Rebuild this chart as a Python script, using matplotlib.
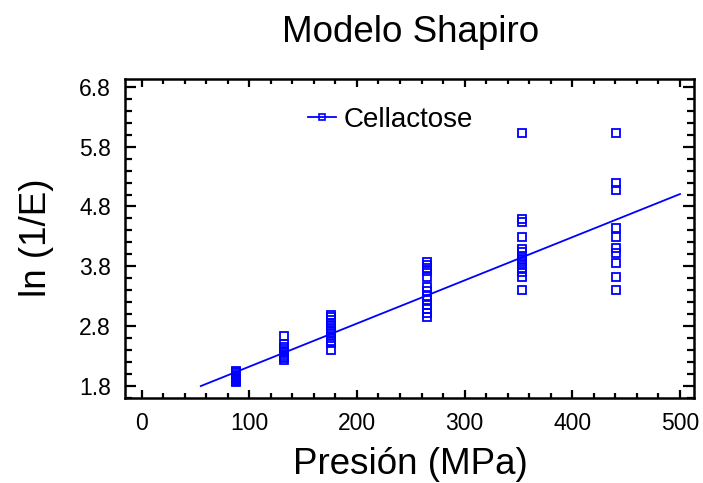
import matplotlib
matplotlib.use("Agg")
import matplotlib.pyplot as plt
import numpy as np
from matplotlib.ticker import MultipleLocator
from matplotlib.lines import Line2D

plt.rcParams['font.family'] = ['Liberation Sans', 'DejaVu Sans']

# Data
p88 = [1.86, 1.88, 1.90, 1.92, 1.94, 1.95, 1.97, 1.99, 2.01, 2.03, 2.05]
p132 = [2.63, 2.50, 2.46, 2.42, 2.38, 2.35, 2.32, 2.29, 2.26, 2.23]
p176 = [2.98, 2.95, 2.90, 2.85, 2.80, 2.76, 2.72, 2.68, 2.64, 2.60, 2.56, 2.52, 2.40]
p265 = [3.87, 3.82, 3.77, 3.72, 3.62, 3.45, 3.38, 3.30, 3.23, 3.16, 3.08, 3.02, 2.95]
p353 = [6.02, 4.59, 4.54, 4.29, 4.09, 4.04, 3.97, 3.92, 3.87, 3.82, 3.77, 3.70, 3.62, 3.40]
p441 = [6.02, 5.19, 5.07, 4.44, 4.29, 4.10, 4.02, 3.85, 3.62, 3.40]
pressures = [88, 132, 176, 265, 353, 441]
groups = [p88, p132, p176, p265, p353, p441]

fit_slope = 0.00721
fit_intercept = 1.403
fit_x = [55, 500]

series_name = "Cellactose"
title = "Modelo Shapiro"
xlabel = "Presión (MPa)"
ylabel = "ln (1/E)"

W, H = 703, 483
fig = plt.figure(figsize=(W / 100, H / 100), dpi=100)
ax = fig.add_axes([125 / W, 1 - 398 / H, (694 - 125) / W, (398 - 79) / H])

blue = '#0000FF'
xs = np.concatenate([[p] * len(g) for p, g in zip(pressures, groups)])
ys = np.concatenate(groups)
ax.plot(xs, ys, linestyle='none', marker='s', markersize=6.2, markerfacecolor='none',
        markeredgecolor=blue, markeredgewidth=1.3, zorder=3)
fx = np.array(fit_x, dtype=float)
ax.plot(fx, fit_intercept + fit_slope * fx, color=blue, lw=1.3, zorder=2)

h = Line2D([], [], color=blue, lw=1.3, marker='s', markersize=5,
           markerfacecolor='none', markeredgecolor=blue, markeredgewidth=1.2)
leg = ax.legend([h], [series_name], loc='center left',
                bbox_to_anchor=((308 - 125) / (694 - 125), (398 - 120) / (398 - 79)),
                frameon=False, fontsize=20, handlelength=1.0, handletextpad=0.28,
                borderpad=0, borderaxespad=0)

ax.set_xlim(-15.4, 513)
ax.set_ylim(1.6, 6.93)
ax.xaxis.set_major_locator(MultipleLocator(100))
ax.xaxis.set_minor_locator(MultipleLocator(20))
yt = np.arange(1.8, 6.9, 1.0)
ax.set_yticks(yt)
ax.set_yticklabels(['%.1f' % v for v in yt])
ax.yaxis.set_minor_locator(MultipleLocator(0.2))

ax.tick_params(which='both', direction='in', top=True, right=True, width=1.6, colors='black')
ax.tick_params(axis='x', which='major', length=6, labelsize=16.5, pad=10)
ax.tick_params(axis='x', which='minor', length=3.5)
ax.tick_params(axis='y', which='major', length=8, labelsize=16.5, pad=10)
ax.tick_params(axis='y', which='minor', length=5)
for s in ax.spines.values():
    s.set_linewidth(1.8)

fig.text(411 / W, 1 - 42 / H, title, ha='center', va='baseline', fontsize=26.5)
fig.text(410 / W, 1 - 474 / H, xlabel, ha='center', va='baseline', fontsize=26.5)
fig.text(37 / W, 1 - 238 / H, ylabel, ha='center', va='center', rotation=90, fontsize=26.5)

fig.savefig('out.png', dpi=100)
